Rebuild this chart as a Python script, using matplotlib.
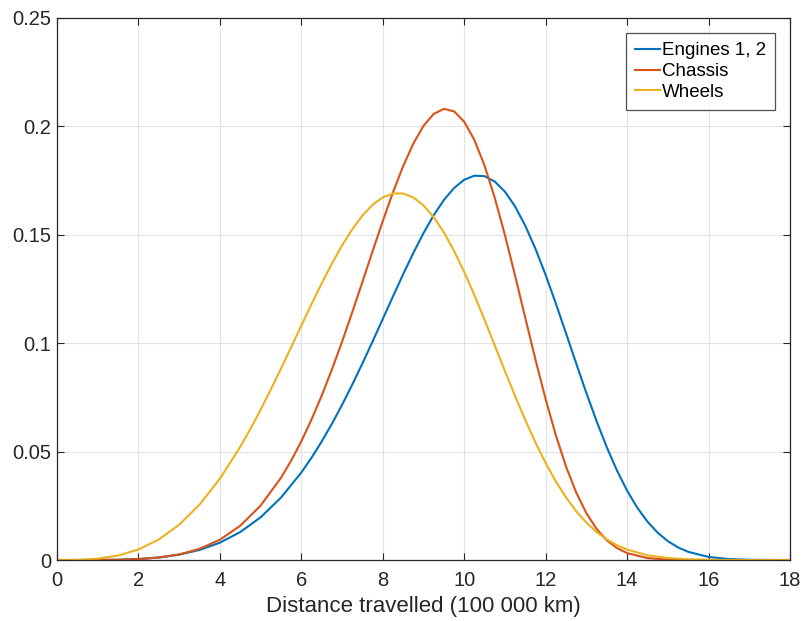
import matplotlib
matplotlib.use("Agg")
import matplotlib.pyplot as plt

# -------------------------------
# Data
# (denser points where the curves bend)
# -------------------------------

engines_x = [0, 0.5, 1, 1.5, 2, 2.5, 3, 3.5, 4, 4.5, 5, 5.5, 6, 6.25, 6.5,
             6.75, 7, 7.25, 7.5, 7.75, 8, 8.25, 8.5, 8.75, 9, 9.25, 9.5, 9.75,
             10, 10.25, 10.5, 10.75, 11, 11.25, 11.5, 11.75, 12, 12.25, 12.5,
             12.75, 13, 13.25, 13.5, 13.75, 14, 14.25, 14.5, 14.75, 15, 15.25,
             15.5, 16, 16.5, 17, 17.5, 18]
engines = [0, 0.0000016, 0.0000274, 0.000144, 0.000469, 0.00117, 0.002469,
           0.004639, 0.007995, 0.012891, 0.019694, 0.028756, 0.040349, 0.04715,
           0.054636, 0.06276, 0.07153, 0.08085, 0.090627, 0.10078, 0.11112,
           0.12151, 0.13173, 0.14155, 0.1507, 0.15894, 0.16596, 0.17149, 0.17531,
           0.17718, 0.17694, 0.17447, 0.1698, 0.16295, 0.15407, 0.14342, 0.13137,
           0.11824, 0.10448, 0.09061, 0.076958, 0.06401, 0.052031, 0.0413,
           0.031974, 0.02411, 0.017681, 0.012606, 0.008703, 0.005817, 0.003768,
           0.001415, 0.000454, 0.000123, 0.00003, 0.000006]

chassis_x = [0, 0.5, 1, 1.5, 2, 2.5, 3, 3.5, 4, 4.5, 5, 5.5, 5.75, 6, 6.25,
             6.5, 6.75, 7, 7.25, 7.5, 7.75, 8, 8.25, 8.5, 8.75, 9, 9.25, 9.5,
             9.75, 10, 10.25, 10.5, 10.75, 11, 11.25, 11.5, 11.75, 12, 12.25,
             12.5, 12.75, 13, 13.25, 13.5, 13.75, 14, 14.5, 15, 15.5, 16, 16.5,
             17, 17.5, 18]
chassis = [0, 0.0000008, 0.000018, 0.000114, 0.000415, 0.001134, 0.002576,
           0.005144, 0.009347, 0.015786, 0.025093, 0.037915, 0.04581, 0.05474,
           0.06475, 0.07579, 0.08779, 0.10063, 0.11421, 0.12819, 0.14234,
           0.15623, 0.16947, 0.18158, 0.19196, 0.20016, 0.20564, 0.20797,
           0.20683, 0.20203, 0.1936, 0.18177, 0.16692, 0.14976, 0.13101, 0.11155,
           0.09234, 0.07408, 0.05751, 0.04309, 0.03111, 0.02158, 0.014351,
           0.009121, 0.005515, 0.003173, 0.000888, 0.000194, 0.00003, 0.000004,
           0, 0, 0, 0]

wheels_x = [0, 0.5, 1, 1.5, 2, 2.5, 3, 3.5, 4, 4.5, 4.75, 5, 5.25, 5.5,
            5.75, 6, 6.25, 6.5, 6.75, 7, 7.25, 7.5, 7.75, 8, 8.25, 8.5, 8.75,
            9, 9.25, 9.5, 9.75, 10, 10.25, 10.5, 10.75, 11, 11.25, 11.5, 11.75,
            12, 12.25, 12.5, 12.75, 13, 13.25, 13.5, 13.75, 14, 14.5, 15, 15.5,
            16, 16.5, 17, 17.5, 18]
wheels = [0, 0.0000762, 0.00061, 0.00206, 0.00486, 0.009467, 0.01626, 0.02555,
          0.03752, 0.05219, 0.06045, 0.06929, 0.07857, 0.08822, 0.09811,
          0.10808, 0.11795, 0.12754, 0.13663, 0.14501, 0.15247, 0.15877,
          0.16375, 0.16718, 0.16896, 0.16897, 0.16714, 0.1635, 0.15808,
          0.15103, 0.14252, 0.13278, 0.12206, 0.11068, 0.09892, 0.08712,
          0.07555, 0.06448, 0.05413, 0.04468, 0.03622, 0.02883, 0.0225,
          0.01724, 0.012911, 0.009502, 0.006825, 0.004796, 0.002206, 0.000918,
          0.000344, 0.000115, 0.00003, 0.00001, 0, 0]

series_names = ["Engines 1, 2", "Chassis", "Wheels"]
colors = ["#0072BD", "#D95319", "#EDB120"]

y_ticks = [0, 0.05, 0.1, 0.15, 0.2, 0.25]
y_tick_labels = ["0", "0.05", "0.1", "0.15", "0.2", "0.25"]
x_ticks = [0, 2, 4, 6, 8, 10, 12, 14, 16, 18]

# -------------------------------
# Plot
# -------------------------------

plt.rcParams["font.family"] = ["Liberation Sans", "DejaVu Sans"]

fig = plt.figure(figsize=(8.04, 6.21), dpi=100)
ax = fig.add_axes([0.0709, 0.0982, 0.9117, 0.8733])

all_x = [engines_x, chassis_x, wheels_x]
all_y = [engines, chassis, wheels]
for xs, ys, name, c in zip(all_x, all_y, series_names, colors):
    ax.plot(xs, ys, color=c, lw=1.5, label=name)

ax.set_xlim(0, 18)
ax.set_ylim(0, 0.25)
ax.set_xticks(x_ticks)
ax.set_yticks(y_ticks)
ax.set_yticklabels(y_tick_labels)

ax.grid(True, color="#e3e3e3", lw=0.8)
ax.set_axisbelow(True)
ax.tick_params(direction="in", top=True, right=True, length=5, width=0.8,
               labelsize=14.5, colors="#262626")
ax.tick_params(axis="y", pad=4)
ax.tick_params(axis="x", pad=8)
for s in ax.spines.values():
    s.set_color("#262626")
    s.set_linewidth(0.9)

ax.set_xlabel("Distance travelled (100 000 km)", fontsize=16, color="#262626", labelpad=4)

leg = ax.legend(loc="upper right", fontsize=13.5, frameon=True, fancybox=False,
                edgecolor="#262626", handlelength=1.3, handletextpad=0.1,
                borderpad=0.5, labelspacing=0.2, borderaxespad=0.8)
leg.get_frame().set_linewidth(0.9)

fig.savefig("out.png", dpi=100)
